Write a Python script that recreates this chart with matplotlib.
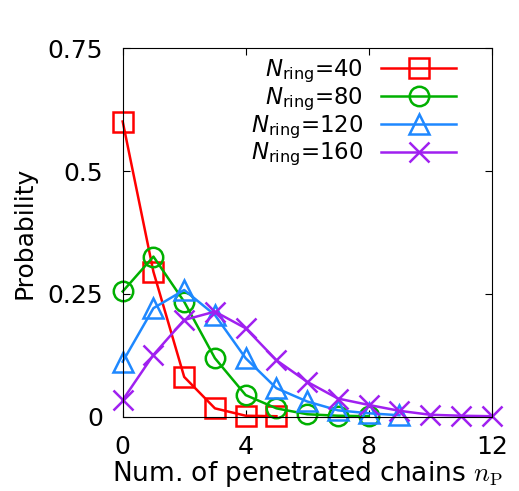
import matplotlib
matplotlib.use("Agg")
import matplotlib.pyplot as plt
from matplotlib.font_manager import FontProperties

# Probability of penetrated chains for each ring length
n_p = list(range(13))
p40 = [0.601, 0.295, 0.081, 0.017, 0.002, 0.001]
p80 = [0.255, 0.326, 0.234, 0.119, 0.044, 0.017, 0.005, 0.002, 0.001]
p120 = [0.112, 0.221, 0.258, 0.207, 0.119, 0.058, 0.031, 0.013, 0.007, 0.003]
p160 = [0.034, 0.126, 0.197, 0.214, 0.180, 0.115, 0.071, 0.037, 0.024, 0.012, 0.004, 0.002, 0.001]

labels = [r"$N_{\mathrm{ring}}$=40", r"$N_{\mathrm{ring}}$=80",
          r"$N_{\mathrm{ring}}$=120", r"$N_{\mathrm{ring}}$=160"]
colors = ["#ff0000", "#00b000", "#1e88ff", "#a020f0"]
markers = ["s", "o", "^", "x"]
series = [p40, p80, p120, p160]

fig = plt.figure(figsize=(5.19, 4.91), dpi=100)
ax = fig.add_axes([0.2364, 0.1513, 0.711, 0.7503])

for vals, lab, c, m in zip(series, labels, colors, markers):
    ax.plot(n_p[:len(vals)], vals, color=c, lw=1.8, marker=m, ms=14 if m != "x" else 15,
            mfc="none", mec=c, mew=1.8, label=lab, clip_on=False)

ax.set_xlim(0, 12)
ax.set_ylim(0, 0.75)
ax.set_xticks([0, 4, 8, 12])
ax.set_yticks([0, 0.25, 0.5, 0.75])
ax.set_yticklabels(["0", "0.25", "0.5", "0.75"])
ax.tick_params(direction="in", top=True, right=True, labelsize=18, length=5)
ax.tick_params(axis="y", pad=14)
ax.tick_params(axis="x", pad=13)
for s in ax.spines.values():
    s.set_linewidth(0.8)

ax.set_ylabel("Probability", fontsize=18, labelpad=8)
ax.set_xlabel(r"Num. of penetrated chains $n_{\mathrm{P}}$", fontsize=19,
              math_fontfamily="cm", labelpad=0)

leg = ax.legend(loc="upper right", frameon=False, markerfirst=False,
                prop=FontProperties(size=16.5, math_fontfamily="dejavusans"),
                handlelength=3.25, handletextpad=0.8, labelspacing=0.02,
                borderaxespad=0.0, bbox_to_anchor=(0.928, 1.0))
for t in leg.get_texts():
    t.set_ha("right")
leg._legend_box.align = "right"

fig.savefig("out.png", dpi=100)
